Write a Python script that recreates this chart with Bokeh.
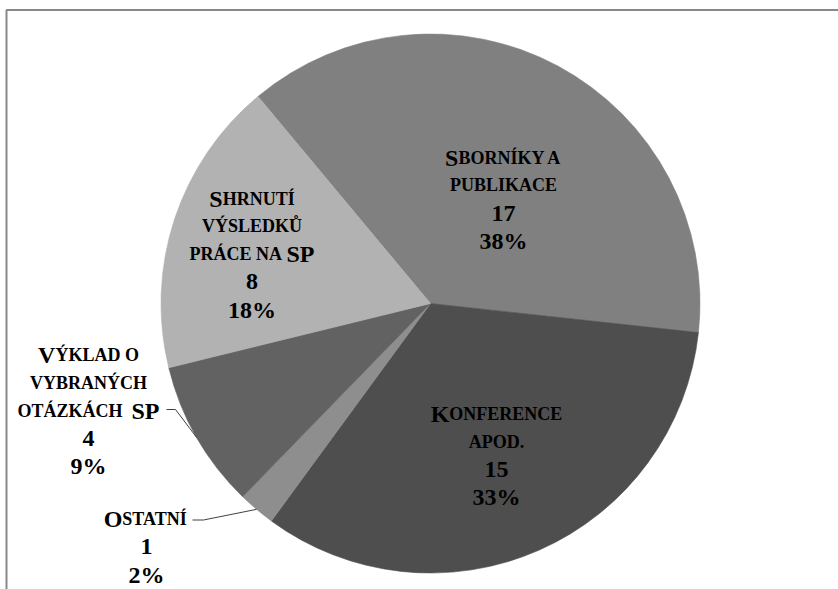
import math
import unicodedata
from bokeh.plotting import figure
from bokeh.models import Range1d
from bokeh.core.properties import value
from bokeh.embed import file_html
from bokeh.resources import INLINE

# ---- data ----
categories = ["Sborníky a publikace", "Konference apod.", "Ostatní",
              "Výklad o vybraných otázkách SP", "Shrnutí výsledků práce na SP"]
counts = [17, 15, 1, 4, 8]
label_lines = [["Sborníky a", "publikace"], ["Konference", "apod."], ["Ostatní"],
               ["Výklad o", "vybraných", "otázkách  SP"], ["Shrnutí", "výsledků", "práce na SP"]]
colors = ["#808080", "#4e4e4e", "#8e8e8e", "#626262", "#b2b2b2"]

# ---- layout ----
W, H = 838, 589
CX, CY, R = 430.0, 303.0, 269.5          # pixel coordinates (y down)
FIRST_ANGLE = -39.8                      # degrees clockwise from 12 o'clock
# label anchors: (centre x, baseline of first line) in pixels
label_pos = [(503, 157), (496, 413.5), (146, 518.5), (88, 354.5), (251.5, 198)]
LINE_H = 27.8
BIG, SMALL = 24, 18
FONT = "Liberation Serif"

def Y(y):
    return H - y

p = figure(width=W, height=H, x_range=Range1d(0, W), y_range=Range1d(0, H),
           min_border=0, toolbar_location=None, output_backend="svg")
p.axis.visible = False
p.grid.visible = False
p.outline_line_color = None
p.background_fill_color = "white"
p.border_fill_color = "white"

# frame (top and left edges visible)
p.line([6, 6, W], [Y(H), Y(9.5), Y(9.5)], line_color="#898989", line_width=2)

# ---- pie ----
total = float(sum(counts))
starts, ends, mids = [], [], []
acc = FIRST_ANGLE
for c in counts:
    a0 = acc
    a1 = acc + c / total * 360.0
    starts.append(math.radians(90 - a0))
    ends.append(math.radians(90 - a1))
    mids.append((a0 + a1) / 2)
    acc = a1
p.wedge(x=CX, y=Y(CY), radius=R, start_angle=starts, end_angle=ends,
        direction="clock", fill_color=colors, line_color=colors, line_width=0.6)

# ---- text helpers (Times/Liberation Serif Bold advance widths) ----
WID = {'A': 722, 'B': 667, 'C': 722, 'D': 722, 'E': 667, 'F': 611, 'G': 778, 'H': 778,
       'I': 389, 'J': 500, 'K': 778, 'L': 667, 'M': 944, 'N': 722, 'O': 778, 'P': 611,
       'Q': 778, 'R': 722, 'S': 556, 'T': 667, 'U': 722, 'V': 722, 'W': 1000, 'X': 722,
       'Y': 722, 'Z': 667, ' ': 250, '.': 250, '%': 1000}
for d in "0123456789":
    WID[d] = 500

def cw(ch):
    base = unicodedata.normalize("NFD", ch)[0]
    return WID.get(base, 600) / 1000.0

def runs_for(line):
    runs = []
    for ch in line:
        if not (ch.isupper() or ch.isdigit() or ch == '%'):
            sz, t = SMALL, ch.upper()
        else:
            sz, t = BIG, ch
        if runs and runs[-1][1] == sz:
            runs[-1][0] += t
        else:
            runs.append([t, sz])
    return runs

def add_line(line, cx, base):
    runs = runs_for(line)
    widths = [sum(cw(c) for c in t) * sz for t, sz in runs]
    x = cx - sum(widths) / 2
    for (t, sz), w in zip(runs, widths):
        p.text(x=[x], y=[Y(base)], text=[t], text_font=value(FONT),
               text_font_style="bold", text_font_size=f"{sz}px", text_color="black",
               text_align="left", text_baseline="alphabetic")
        x += w

for lines, cnt, (lx, lb) in zip(label_lines, counts, label_pos):
    allines = lines + [str(cnt), f"{round(cnt / total * 100)}%"]
    for i, ln in enumerate(allines):
        add_line(ln, lx, lb + i * LINE_H)

# ---- leader lines for the small slices ----
def edge(angle_deg):
    a = math.radians(angle_deg)
    return CX + R * math.sin(a), CY - R * math.cos(a)

leaders = {3: [(166, 409), (175, 409)], 2: [(192, 519.5), (203, 519.5)]}
for idx, pts in leaders.items():
    ex, ey = edge(mids[idx])
    xs = [q[0] for q in pts] + [ex]
    ys = [Y(q[1]) for q in pts] + [Y(ey)]
    p.line(xs, ys, line_color="#404040", line_width=1)

open("out.html", "w").write(file_html(p, INLINE))
